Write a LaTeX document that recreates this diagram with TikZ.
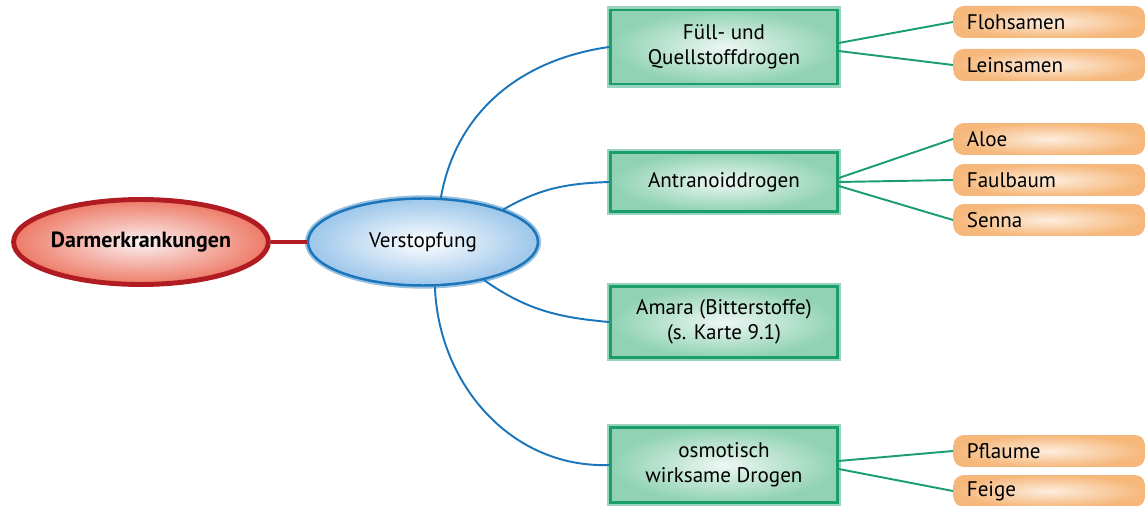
\documentclass[tikz,border=0pt]{standalone}
\usepackage{fontspec}
\setmainfont{PT Sans}
\usetikzlibrary{shapes.geometric}

\definecolor{darmred}{HTML}{B01C22}
\definecolor{darmsalmon}{HTML}{EE7A66}
\definecolor{verblue}{HTML}{1B75BB}
\definecolor{verlight}{HTML}{9CC6EA}
\definecolor{boxgreen}{HTML}{1A9E6C}
\definecolor{boxlight}{HTML}{90D2B3}
\definecolor{leaforange}{HTML}{F6B77A}

\begin{document}
\begin{tikzpicture}[x=0.02cm, y=-0.02cm, font=\fontsize{12}{14}\selectfont,
		krankmode/.style={ellipse,inner sep=0pt,minimum width=5cm,minimum height=1.7cm,line width=2.8pt, draw=darmred, inner color=darmred!6, outer color=darmsalmon,font=\fontsize{12.5}{14}\selectfont\bfseries},
		symptmode/.style={ellipse,inner sep=0pt,minimum width=4.6cm,minimum height=1.74cm,line width=1.4pt, draw=verblue, preaction={draw=verblue!45, line width=3.6pt}, inner color=white, outer color=verlight},
		drogmode/.style={rectangle,minimum width=4.54cm,align=center,line width=1.6pt, draw=boxgreen, preaction={draw=boxgreen!45, line width=4pt}, inner color=boxgreen!8, outer color=boxlight},
		pflmode/.style={rectangle,rounded corners=6pt,anchor=west,text width=3.3cm,inner xsep=0.27cm,minimum height=0.64cm,align=left, inner color=leaforange!25, outer color=leaforange},
		blueline/.style={verblue, line width=1.1pt},
		greenline/.style={boxgreen, line width=1.1pt}]
		\useasboundingbox (0,0) rectangle (1145,506);

		% Krankheit und Symptom
		\node (darm)  [krankmode] at (141,242) {Darmerkrankungen};
		\node (verst) [symptmode] at (423,242) {Verstopfung};
		\draw [darmred, line width=1.8pt] (darm.east)--(verst.west);

		% Drogengruppen
		\node (fuell)   [drogmode,minimum height=1.48cm] at (724,47)  {Füll- und\\Quellstoffdrogen};
		\node (antra)   [drogmode,minimum height=1.18cm] at (724,182) {Antranoiddrogen};
		\node (amara)   [drogmode,minimum height=1.42cm] at (724,322) {Amara (Bitterstoffe)\\(s. Karte 9.1)};
		\node (osmo)    [drogmode,minimum height=1.5cm]  at (724,465) {osmotisch\\wirksame Drogen};

		\draw [blueline] (verst.68)  to[out=80,in=188] (fuell.west);
		\draw [blueline] (verst.22)  to[out=30,in=182] (antra.west);
		\draw [blueline] (verst.-32) to[out=-35,in=175] (amara.west);
		\draw [blueline] (verst.-75) to[out=-88,in=182] (osmo.west);

		% Pflanzen
		\node (floh)  [pflmode] at (953,22)  {Flohsamen};
		\node (lein)  [pflmode] at (953,65)  {Leinsamen};
		\node (aloe)  [pflmode] at (953,139) {Aloe};
		\node (faul)  [pflmode] at (953,180) {Faulbaum};
		\node (senna) [pflmode] at (953,220) {Senna};
		\node (pflau) [pflmode] at (953,451) {Pflaume};
		\node (feige) [pflmode] at (953,491) {Feige};

		\draw [greenline] ([yshift=2.3pt]fuell.east)--(floh.west);
		\draw [greenline] ([yshift=-2.3pt]fuell.east)--(lein.west);
		\draw [greenline] ([yshift=2.3pt]antra.east)--(aloe.west);
		\draw [greenline] (antra.east)--(faul.west);
		\draw [greenline] ([yshift=-2.3pt]antra.east)--(senna.west);
		\draw [greenline] ([yshift=2.3pt]osmo.east)--(pflau.west);
		\draw [greenline] ([yshift=-2.3pt]osmo.east)--(feige.west);
	\end{tikzpicture}
\end{document}
